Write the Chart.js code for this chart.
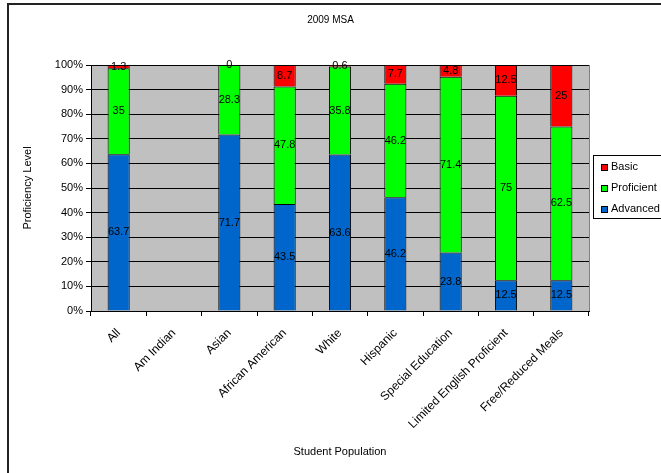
<!DOCTYPE html>
<html>
<head>
<meta charset="utf-8">
<script src="https://cdn.jsdelivr.net/npm/chart.js@4"></script>
<style>
  html, body { margin: 0; padding: 0; background: #ffffff; }
  #wrap { width: 661px; height: 473px; position: relative; }
</style>
</head>
<body>
<div id="wrap"><canvas id="c" width="661" height="473"></canvas></div>
<script>
// Student groups along the x axis
const categories = ['All', 'Am Indian', 'Asian', 'African American', 'White', 'Hispanic',
  'Special Education', 'Limited English Proficient', 'Free/Reduced Meals'];

// Percent of students at each proficiency level (no data for Am Indian)
const advanced   = [63.7, null, 71.7, 43.5, 63.6, 46.2, 23.8, 12.5, 12.5];
const proficient = [35,   null, 28.3, 47.8, 35.8, 46.2, 71.4, 75,   62.5];
const basic      = [1.3,  null, 0,    8.7,  0.6,  7.7,  4.8,  12.5, 25];

// Y axis tick values
const yTicks = [0, 10, 20, 30, 40, 50, 60, 70, 80, 90, 100];

const FONT = "'Liberation Sans', Arial, sans-serif";
Chart.defaults.font.family = FONT;
Chart.defaults.font.size = 11;
Chart.defaults.color = '#000000';

// Grey plot background, plot border and the outer frame
const backdrop = {
  id: 'backdrop',
  beforeDraw(chart) {
    const { ctx, chartArea: a } = chart;
    ctx.save();
    ctx.fillStyle = '#c0c0c0';
    ctx.fillRect(a.left, a.top, a.right - a.left, a.bottom - a.top);
    ctx.strokeStyle = '#808080';
    ctx.lineWidth = 1;
    ctx.beginPath();
    ctx.moveTo(a.right + 0.5, a.top);
    ctx.lineTo(a.right + 0.5, a.bottom);
    ctx.stroke();
    ctx.strokeStyle = '#222222';
    ctx.lineWidth = 2;
    ctx.beginPath();
    ctx.moveTo(661, 4);
    ctx.lineTo(8, 4);
    ctx.lineTo(8, 473);
    ctx.stroke();
    ctx.restore();
  }
};

// Value labels centred inside each bar segment
const segmentLabels = {
  id: 'segmentLabels',
  afterDatasetsDraw(chart) {
    const { ctx } = chart;
    ctx.save();
    ctx.font = '11px ' + FONT;
    ctx.fillStyle = '#000000';
    ctx.textAlign = 'center';
    ctx.textBaseline = 'middle';
    chart.data.datasets.forEach((ds, i) => {
      const meta = chart.getDatasetMeta(i);
      meta.data.forEach((bar, j) => {
        const v = ds.data[j];
        if (v === null || v === undefined) return;
        const y = (bar.y + bar.base) / 2;
        ctx.fillText(String(v), bar.x, y);
      });
    });
    ctx.restore();
  }
};

// Boxed legend on the right, listing the top series first
const boxLegend = {
  id: 'boxLegend',
  afterDraw(chart) {
    const { ctx } = chart;
    const x0 = 593, y0 = 155, h = 63;
    ctx.save();
    ctx.fillStyle = '#ffffff';
    ctx.fillRect(x0, y0, 120, h);
    ctx.strokeStyle = '#000000';
    ctx.lineWidth = 1;
    ctx.strokeRect(x0 + 0.5, y0 + 0.5, 120, h);
    ctx.font = '11px ' + FONT;
    ctx.textAlign = 'left';
    ctx.textBaseline = 'middle';
    const items = chart.data.datasets.slice().reverse();
    items.forEach((ds, k) => {
      const cy = 167 + k * 21;
      ctx.fillStyle = ds.backgroundColor;
      ctx.fillRect(601, cy - 3, 7, 7);
      ctx.strokeStyle = '#000000';
      ctx.strokeRect(601.5, cy - 2.5, 6, 6);
      ctx.fillStyle = '#000000';
      ctx.fillText(ds.label, 611, cy);
    });
    ctx.restore();
  }
};

const seg = (label, data, color) => ({
  label, data,
  backgroundColor: color,
  borderColor: '#000000',
  borderWidth: 1,
  borderSkipped: 'start',
  inflateAmount: 0,
  categoryPercentage: 0.8,
  barPercentage: 0.5
});

new Chart(document.getElementById('c'), {
  type: 'bar',
  data: {
    labels: categories,
    datasets: [
      seg('Advanced', advanced, '#0066cc'),
      seg('Proficient', proficient, '#00ff00'),
      seg('Basic', basic, '#ff0000')
    ]
  },
  options: {
    responsive: false,
    animation: false,
    devicePixelRatio: 1,
    layout: { padding: 0 },
    plugins: {
      legend: { display: false },
      tooltip: { enabled: false },
      title: {
        display: true,
        text: '2009 MSA',
        font: { size: 10, weight: 'normal' },
        color: '#000000',
        padding: { top: 14, bottom: 39 }
      }
    },
    scales: {
      x: {
        stacked: true,
        offset: true,
        grid: { display: true, drawOnChartArea: false, drawTicks: true, tickLength: 5, color: '#000000', offset: true },
        border: { display: true, color: '#000000', width: 1 },
        ticks: { autoSkip: false, minRotation: 45, maxRotation: 45, padding: 10, font: { size: 12 } },
        title: { display: true, text: 'Student Population', font: { size: 11 }, padding: { top: 0, bottom: 14.4 } },
        afterFit(scale) { scale.height = 162; }
      },
      y: {
        stacked: true,
        min: 0,
        max: 100,
        afterBuildTicks(scale) { scale.ticks = yTicks.map(v => ({ value: v })); },
        grid: { color: '#000000', lineWidth: 1, drawTicks: true, tickLength: 5 },
        border: { display: true, color: '#000000', width: 1 },
        ticks: { padding: 3, font: { size: 11 }, callback: v => v + '%' },
        title: { display: true, text: 'Proficiency Level', font: { size: 11 }, padding: { top: 21.4, bottom: 0 } },
        afterFit(scale) { scale.width = 91; }
      },
      // empty strip on the right that holds the legend
      legendSpace: {
        type: 'linear',
        position: 'right',
        display: true,
        grid: { display: false },
        border: { display: false },
        ticks: { display: false },
        afterFit(scale) { scale.width = 72; }
      }
    }
  },
  plugins: [backdrop, segmentLabels, boxLegend]
});
</script>
</body>
</html>
